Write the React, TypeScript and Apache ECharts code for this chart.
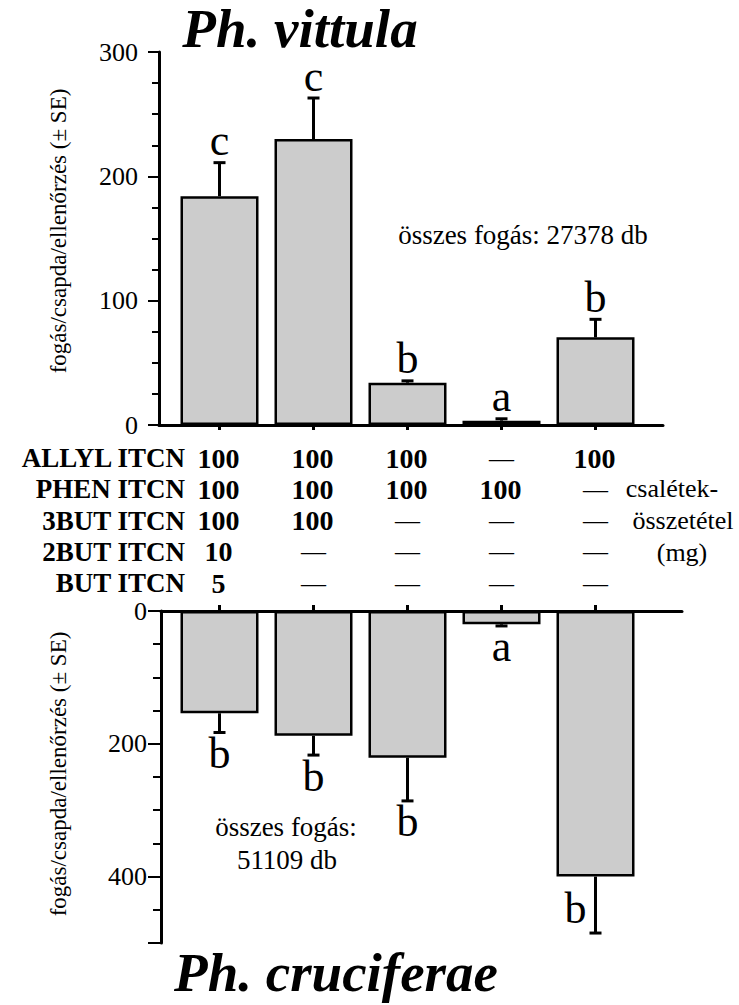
import React, { useEffect, useRef } from "react";
import * as echarts from "echarts";

// ---------- data ----------
const lures = ["1", "2", "3", "4", "5"];

const vittulaMean = [184, 230, 34, 3.5, 70.5];
const vittulaSE = [27, 33, 1.5, 1.5, 14.5];
const vittulaLetters = ["c", "c", "b", "a", "b"];
const vittulaTickLabels = [0, 100, 200, 300];

const cruciferaeMean = [154, 188, 221, 20, 400];
const cruciferaeSE = [29, 29, 65, 2.5, 85];
const cruciferaeLetters = ["b", "b", "b", "a", "b"];
const cruciferaeTickLabels = [0, 200, 400];

const compounds = ["ALLYL ITCN", "PHEN ITCN", "3BUT ITCN", "2BUT ITCN", "BUT ITCN"];
const doses: (number | null)[][] = [
  [100, 100, 100, null, 100],
  [100, 100, 100, 100, null],
  [100, 100, null, null, null],
  [10, null, null, null, null],
  [5, null, null, null, null],
];

const titleTop = "Ph. vittula";
const titleBottom = "Ph. cruciferae";
const yAxisName = "fogás/csapda/ellenőrzés (± SE)";
const totalTop = "összes fogás: 27378 db";
const totalBottom = ["összes fogás:", "51109 db"];
const baitLabel = ["csalétek-", "összetétel", "(mg)"];

// ---------- styles ----------
const FONT = "Liberation Serif, Times New Roman, serif";
const STEP = 94;
const FIRST = 219.5;

function errorRenderer(letters: string[], below: boolean) {
  return (params: any, api: any) => {
    const i = api.value(0);
    const m = api.value(1);
    const se = api.value(2);
    const p0 = api.coord([i, m]);
    const p1 = api.coord([i, m + se]);
    const cs = params.coordSys;
    let tx = p1[0];
    let ty: number;
    if (!below) {
      ty = p1[1] - 22;
    } else if (p1[1] + 45 > cs.y + cs.height) {
      tx = p1[0] - 20;
      ty = p1[1] - 25;
    } else {
      ty = p1[1] + 21;
    }
    return {
      type: "group",
      children: [
        {
          type: "line",
          shape: { x1: p0[0], y1: p0[1], x2: p1[0], y2: p1[1] },
          style: { stroke: "#000", lineWidth: 3 },
        },
        {
          type: "line",
          shape: { x1: p1[0] - 6, y1: p1[1], x2: p1[0] + 6, y2: p1[1] },
          style: { stroke: "#000", lineWidth: 3 },
        },
        {
          type: "text",
          x: tx,
          y: ty,
          style: {
            text: letters[params.dataIndex],
            fontSize: 44,
            lineHeight: 34,
            fontFamily: FONT,
            fill: "#000",
            textAlign: "center",
            textVerticalAlign: "middle",
          },
        },
      ],
    };
  };
}

function txt(
  x: number,
  y: number,
  text: string,
  size: number,
  weight = "normal",
  fontStyle = "normal",
  align = "center",
  extra: any = {}
) {
  return {
    type: "text",
    x,
    y,
    ...extra,
    style: {
      text,
      fontSize: size,
      fontWeight: weight,
      fontStyle,
      fontFamily: FONT,
      lineHeight: Math.round(size * 0.95),
      fill: "#000",
      textAlign: align,
      textVerticalAlign: "middle",
    },
  };
}

export default function App() {
  const ref = useRef<HTMLDivElement>(null);

  useEffect(() => {
    const chart = echarts.init(ref.current!, null, { renderer: "svg" });
    const topLeft = 159, topWidth = 504;
    const botLeft = 161, botWidth = 521;
    const topMin = (topLeft - FIRST) / STEP;
    const botMin = (botLeft - FIRST) / STEP;
    const idx = lures.map((_, i) => i);

    const axisLine = { show: true, onZero: false, lineStyle: { color: "#000", width: 3 } };

    chart.setOption({
      animation: false,
      textStyle: { fontFamily: FONT },
      grid: [
        { left: topLeft, top: 52, width: topWidth, height: 373, containLabel: false, outerBoundsMode: "none" },
        { left: botLeft, top: 611, width: botWidth, height: 332, containLabel: false, outerBoundsMode: "none" },
      ],
      xAxis: [
        {
          gridIndex: 0,
          type: "value",
          min: topMin,
          max: topMin + topWidth / STEP,
          position: "bottom",
          axisLine,
          axisTick: { show: true, customValues: idx, length: 5, lineStyle: { color: "#000", width: 3 } },
          axisLabel: { show: false },
          splitLine: { show: false },
        },
        {
          gridIndex: 1,
          type: "value",
          min: botMin,
          max: botMin + botWidth / STEP,
          position: "top",
          axisLine,
          axisTick: { show: true, customValues: idx, length: 6, lineStyle: { color: "#000", width: 3 } },
          axisLabel: { show: false },
          splitLine: { show: false },
        },
      ],
      yAxis: [
        {
          gridIndex: 0,
          type: "value",
          min: 0,
          max: 300,
          interval: 100,
          position: "left",
          axisLine,
          axisTick: { show: true, length: 11, lineStyle: { color: "#000", width: 2 } },
          minorTick: { show: true, splitNumber: 4, length: 7, lineStyle: { color: "#000", width: 2 } },
          axisLabel: {
            color: "#000",
            fontFamily: FONT,
            fontSize: 26,
            margin: 21,
            formatter: (v: number) => (vittulaTickLabels.includes(v) ? String(v) : ""),
          },
          splitLine: { show: false },
          minorSplitLine: { show: false },
        },
        {
          gridIndex: 1,
          type: "value",
          min: 0,
          max: 500,
          interval: 50,
          inverse: true,
          position: "left",
          axisLine,
          axisTick: { show: true, length: 8, lineStyle: { color: "#000", width: 2 } },
          axisLabel: { show: false },
          splitLine: { show: false },
        },
        {
          gridIndex: 1,
          type: "value",
          min: 0,
          max: 500,
          interval: 200,
          inverse: true,
          position: "left",
          axisLine: { show: false, onZero: false },
          axisTick: { show: true, length: 13, lineStyle: { color: "#000", width: 2 } },
          axisLabel: {
            color: "#000",
            fontFamily: FONT,
            fontSize: 26,
            margin: 14,
            formatter: (v: number) => (cruciferaeTickLabels.includes(v) ? String(v) : ""),
          },
          splitLine: { show: false },
        },
      ],
      series: [
        {
          type: "bar",
          xAxisIndex: 0,
          yAxisIndex: 0,
          barWidth: 78,
          data: vittulaMean.map((v, i) => [i, v]),
          itemStyle: { color: "#cccccc", borderColor: "#000", borderWidth: 2.5 },
          z: 2,
        },
        {
          type: "custom",
          xAxisIndex: 0,
          yAxisIndex: 0,
          data: vittulaMean.map((v, i) => [i, v, vittulaSE[i]]),
          encode: { x: 0, y: 1 },
          renderItem: errorRenderer(vittulaLetters, false),
          z: 3,
        },
        {
          type: "bar",
          xAxisIndex: 1,
          yAxisIndex: 1,
          barWidth: 78,
          data: cruciferaeMean.map((v, i) => [i, v]),
          itemStyle: { color: "#cccccc", borderColor: "#000", borderWidth: 2.5 },
          z: 2,
        },
        {
          type: "custom",
          xAxisIndex: 1,
          yAxisIndex: 1,
          data: cruciferaeMean.map((v, i) => [i, v, cruciferaeSE[i]]),
          encode: { x: 0, y: 1 },
          renderItem: errorRenderer(cruciferaeLetters, true),
          z: 3,
        },
      ],
    });

    const colX = idx.map((i) => chart.convertToPixel({ xAxisIndex: 0 }, i) as number);
    const rowY = (r: number) => 458 + r * 31.3;

    const elements: any[] = [
      txt(300, 28, titleTop, 55, "bold", "italic"),
      txt(336, 972, titleBottom, 55, "bold", "italic"),
      txt(58, 231, yAxisName, 23, "normal", "normal", "center", { rotation: Math.PI / 2 }),
      txt(58, 774, yAxisName, 23, "normal", "normal", "center", { rotation: Math.PI / 2 }),
      txt(523, 235, totalTop, 27),
      txt(286, 827, totalBottom[0], 27),
      txt(287, 860, totalBottom[1], 27),
      txt(672, 488, baitLabel[0], 26),
      txt(683, 520, baitLabel[1], 26),
      txt(682, 552, baitLabel[2], 26),
    ];
    compounds.forEach((name, r) => {
      elements.push(txt(185, rowY(r), name, 27, "bold", "normal", "right"));
      doses[r].forEach((d, c) => {
        if (d === null) {
          elements.push(txt(colX[c], rowY(r), "—", 25));
        } else {
          elements.push(txt(colX[c] - 1, rowY(r), String(d), 28, "bold"));
        }
      });
    });
    chart.setOption({ graphic: elements });

    return () => chart.dispose();
  }, []);

  return (
    <div
      ref={ref}
      style={{ position: "absolute", left: 0, top: 0, width: 739, height: 1005, background: "#fff" }}
    />
  );
}
